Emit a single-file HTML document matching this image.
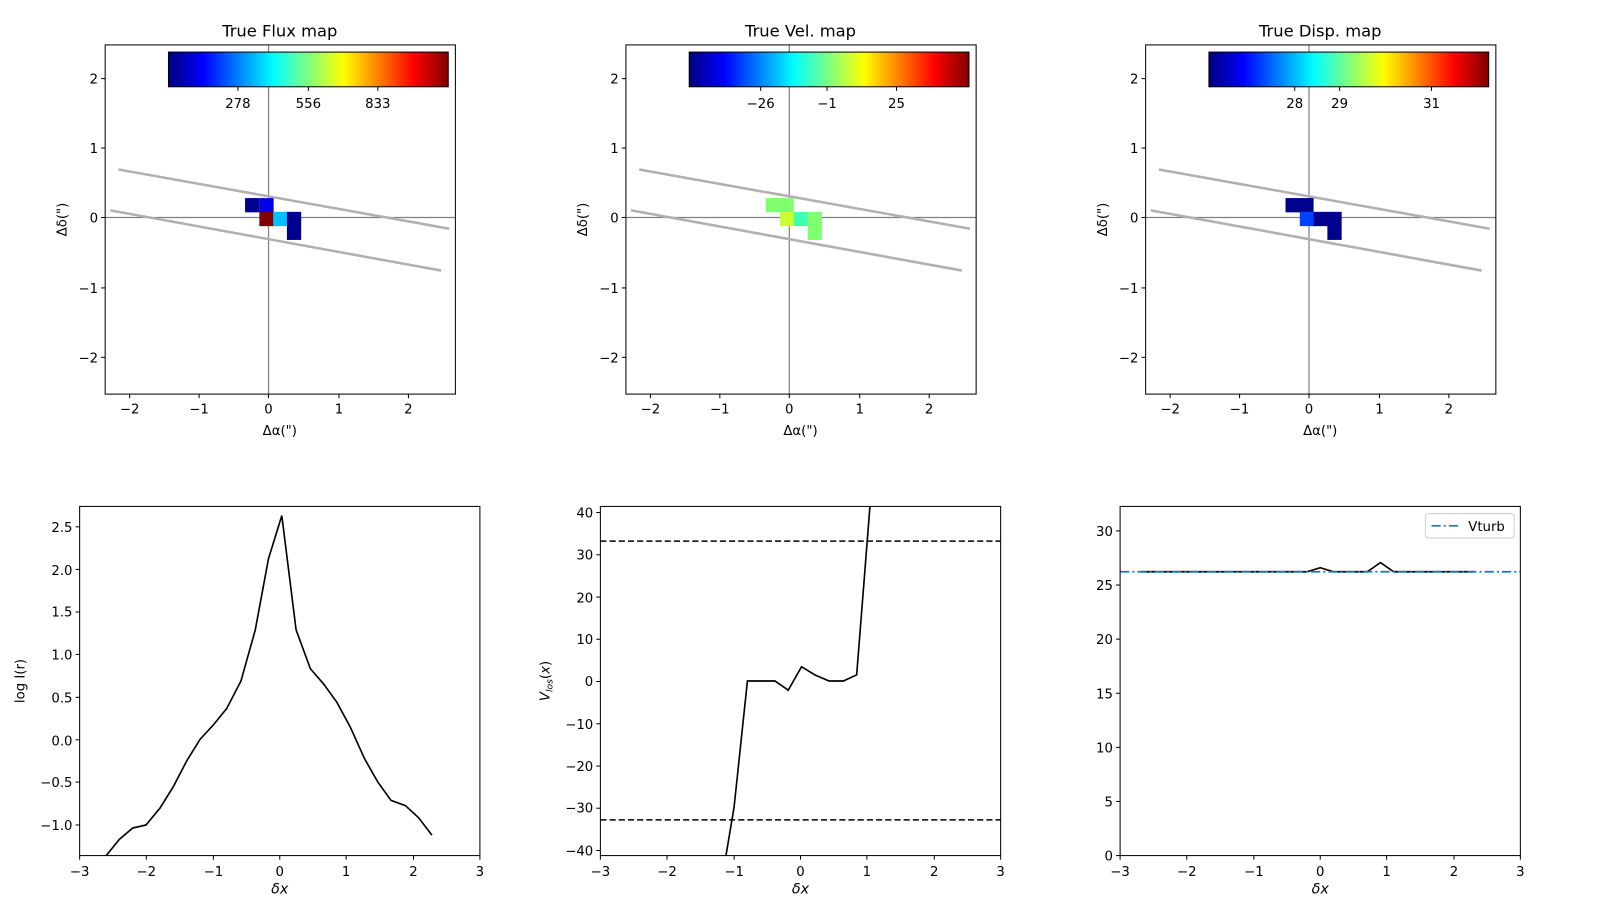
<!DOCTYPE html>
<html><head><meta charset="utf-8"><style>
html,body{margin:0;padding:0;background:#fff;}
svg{display:block;font-family:"DejaVu Sans","Liberation Sans",sans-serif;}
</style></head><body>
<svg width="1600" height="900" viewBox="0 0 1567 881.5" preserveAspectRatio="none" xmlns="http://www.w3.org/2000/svg">
<defs>
<linearGradient id="jet" x1="0" x2="1" y1="0" y2="0">
<stop offset="0" stop-color="#000080"/><stop offset="0.125" stop-color="#0000ff"/><stop offset="0.375" stop-color="#00ffff"/><stop offset="0.5" stop-color="#80ff80"/><stop offset="0.625" stop-color="#ffff00"/><stop offset="0.875" stop-color="#ff0000"/><stop offset="1" stop-color="#800000"/>
</linearGradient>
<g id="topframe">
<line x1="263" y1="44" x2="263" y2="386" stroke="#808080" stroke-width="1.2"/>
<line x1="103" y1="213" x2="446" y2="213" stroke="#808080" stroke-width="1.2"/>
<line x1="116" y1="166" x2="440" y2="224" stroke="#b0b0b0" stroke-width="2.5"/>
<line x1="108" y1="206" x2="432" y2="265" stroke="#b0b0b0" stroke-width="2.5"/>
<g stroke="#000" stroke-width="1">
<line x1="127" y1="386" x2="127" y2="390"/><line x1="195" y1="386" x2="195" y2="390"/><line x1="263" y1="386" x2="263" y2="390"/><line x1="332" y1="386" x2="332" y2="390"/><line x1="400" y1="386" x2="400" y2="390"/>
<line x1="99" y1="77" x2="103" y2="77"/><line x1="99" y1="145" x2="103" y2="145"/><line x1="99" y1="213" x2="103" y2="213"/><line x1="99" y1="282" x2="103" y2="282"/><line x1="99" y1="350" x2="103" y2="350"/>
</g>
<g font-size="13" text-anchor="middle">
<text x="127" y="405">−2</text><text x="195" y="405">−1</text><text x="263" y="405">0</text><text x="332" y="405">1</text><text x="400" y="405">2</text>
</g>
<g font-size="13" text-anchor="end">
<text x="96" y="82">2</text><text x="96" y="150">1</text><text x="96" y="218">0</text><text x="96" y="287">−1</text><text x="96" y="355">−2</text>
</g>
<text x="274" y="426" font-size="13" text-anchor="middle">Δα(")</text>
<text transform="translate(65,215) rotate(-90)" font-size="13" text-anchor="middle">Δδ(")</text>
<rect x="165" y="51" width="274" height="34" fill="url(#jet)" stroke="#000" stroke-width="1"/>
</g>
</defs>

<use href="#topframe"/>
<use href="#topframe" transform="translate(510,0)"/>
<use href="#topframe" transform="translate(1019,0)"/>

<rect x="240" y="194" width="14" height="14" fill="#00008f"/>
<rect x="254" y="194" width="14" height="14" fill="#0000e6"/>
<rect x="254" y="207.5" width="14" height="14" fill="#800000"/>
<rect x="267.5" y="207.5" width="14" height="14" fill="#00c0ff"/>
<rect x="281" y="207.5" width="14" height="27.5" fill="#00008f"/>
<rect x="750" y="194" width="27.5" height="14" fill="#80ff70"/>
<rect x="764" y="207.5" width="14" height="14" fill="#c8ff30"/>
<rect x="777.5" y="207.5" width="14" height="14" fill="#40ffb0"/>
<rect x="791" y="207.5" width="14" height="27.5" fill="#80ff70"/>
<rect x="1259" y="194" width="27.5" height="14" fill="#00008f"/>
<rect x="1273" y="207.5" width="14" height="14" fill="#0040ff"/>
<rect x="1286.5" y="207.5" width="27.5" height="14" fill="#00008f"/>
<rect x="1300" y="221" width="14" height="14" fill="#00008f"/>

<g fill="none" stroke="#000" stroke-width="1">
<rect x="103" y="44" width="343" height="342"/>
<rect x="613" y="44" width="343" height="342"/>
<rect x="1122" y="44" width="343" height="342"/>
</g>

<g stroke="#000" stroke-width="1">
<line x1="233" y1="85" x2="233" y2="89"/><line x1="302" y1="85" x2="302" y2="89"/><line x1="370" y1="85" x2="370" y2="89"/>
<line x1="745" y1="85" x2="745" y2="89"/><line x1="810" y1="85" x2="810" y2="89"/><line x1="878" y1="85" x2="878" y2="89"/>
<line x1="1268" y1="85" x2="1268" y2="89"/><line x1="1312" y1="85" x2="1312" y2="89"/><line x1="1402" y1="85" x2="1402" y2="89"/>
</g>
<g font-size="13" text-anchor="middle">
<text x="233" y="106">278</text><text x="302" y="106">556</text><text x="370" y="106">833</text>
<text x="745" y="106">−26</text><text x="810" y="106">−1</text><text x="878" y="106">25</text>
<text x="1268" y="106">28</text><text x="1312" y="106">29</text><text x="1402" y="106">31</text>
</g>
<g font-size="16" text-anchor="middle">
<text x="274" y="36">True Flux map</text>
<text x="784" y="36">True Vel. map</text>
<text x="1293" y="36">True Disp. map</text>
</g>

<polyline fill="none" stroke="#000" stroke-width="1.6" points="104,838 117,822 130,811 143,808 157,791 170,770 183,745 196,724 209,710 222,694 236,667 250,617 263,547 276,505 290,617 304,655 317,670 330,688 343,712 357,743 370,766 383,784 397,789 410,801 423,818"/>
<rect x="78" y="496" width="392" height="342" fill="none" stroke="#000"/>
<g stroke="#000">
<line x1="74" y1="516" x2="78" y2="516"/><line x1="74" y1="557.7" x2="78" y2="557.7"/><line x1="74" y1="599.4" x2="78" y2="599.4"/><line x1="74" y1="641" x2="78" y2="641"/><line x1="74" y1="683" x2="78" y2="683"/><line x1="74" y1="724.6" x2="78" y2="724.6"/><line x1="74" y1="766" x2="78" y2="766"/><line x1="74" y1="808" x2="78" y2="808"/>
</g>
<g font-size="13" text-anchor="end">
<text x="71" y="521">2.5</text><text x="71" y="563">2.0</text><text x="71" y="604">1.5</text><text x="71" y="646">1.0</text><text x="71" y="688">0.5</text><text x="71" y="730">0.0</text><text x="71" y="771">−0.5</text><text x="71" y="813">−1.0</text>
</g>
<text transform="translate(24,667) rotate(-90)" font-size="13" text-anchor="middle">log I(r)</text>

<g id="bx">
<g stroke="#000">
<line x1="78" y1="838" x2="78" y2="842"/><line x1="143.3" y1="838" x2="143.3" y2="842"/><line x1="209" y1="838" x2="209" y2="842"/><line x1="274" y1="838" x2="274" y2="842"/><line x1="339" y1="838" x2="339" y2="842"/><line x1="405" y1="838" x2="405" y2="842"/><line x1="470" y1="838" x2="470" y2="842"/>
</g>
<g font-size="13" text-anchor="middle">
<text x="78" y="858">−3</text><text x="143.3" y="858">−2</text><text x="209" y="858">−1</text><text x="274" y="858">0</text><text x="339" y="858">1</text><text x="405" y="858">2</text><text x="470" y="858">3</text>
</g>
<text x="274" y="875" font-size="14" font-style="italic" text-anchor="middle">δx</text>
</g>
<use href="#bx" transform="translate(510,0)"/>
<use href="#bx" transform="translate(1019,0)"/>

<line x1="588" y1="530" x2="980" y2="530" stroke="#000" stroke-width="1.5" stroke-dasharray="6,3"/>
<line x1="588" y1="803" x2="980" y2="803" stroke="#000" stroke-width="1.5" stroke-dasharray="6,3"/>
<polyline fill="none" stroke="#000" stroke-width="1.6" points="711,838 719,790 732,667 745,667 759,667 772,676 785,653 798,661 812,667 826,667 839,661 852,496"/>
<rect x="588" y="496" width="392" height="342" fill="none" stroke="#000"/>
<g stroke="#000">
<line x1="584" y1="502" x2="588" y2="502"/><line x1="584" y1="543.4" x2="588" y2="543.4"/><line x1="584" y1="584.8" x2="588" y2="584.8"/><line x1="584" y1="626.1" x2="588" y2="626.1"/><line x1="584" y1="667.5" x2="588" y2="667.5"/><line x1="584" y1="708.9" x2="588" y2="708.9"/><line x1="584" y1="750.3" x2="588" y2="750.3"/><line x1="584" y1="791.6" x2="588" y2="791.6"/><line x1="584" y1="833" x2="588" y2="833"/>
</g>
<g font-size="13" text-anchor="end">
<text x="581" y="507">40</text><text x="581" y="548">30</text><text x="581" y="590">20</text><text x="581" y="631">10</text><text x="581" y="672">0</text><text x="581" y="714">−10</text><text x="581" y="755">−20</text><text x="581" y="796">−30</text><text x="581" y="838">−40</text>
</g>
<text transform="translate(538,667) rotate(-90)" font-size="13" text-anchor="middle"><tspan font-style="italic">V</tspan><tspan font-size="9" dy="3" font-style="italic">los</tspan><tspan dy="-3">(</tspan><tspan font-style="italic">x</tspan>)</text>

<polyline fill="none" stroke="#000" stroke-width="1.6" points="1117,560 1280,560 1293,556 1306,560 1339,560 1352,551 1365,560 1443,560"/>
<line x1="1097" y1="560" x2="1489" y2="560" stroke="#1f77b4" stroke-width="1.6" stroke-dasharray="9,3,2,3"/>
<rect x="1097" y="496" width="392" height="342" fill="none" stroke="#000"/>
<g stroke="#000">
<line x1="1093" y1="838" x2="1097" y2="838"/><line x1="1093" y1="785" x2="1097" y2="785"/><line x1="1093" y1="732" x2="1097" y2="732"/><line x1="1093" y1="679" x2="1097" y2="679"/><line x1="1093" y1="626" x2="1097" y2="626"/><line x1="1093" y1="573" x2="1097" y2="573"/><line x1="1093" y1="520" x2="1097" y2="520"/>
</g>
<g font-size="13" text-anchor="end">
<text x="1090" y="843">0</text><text x="1090" y="790">5</text><text x="1090" y="737">10</text><text x="1090" y="684">15</text><text x="1090" y="631">20</text><text x="1090" y="578">25</text><text x="1090" y="525">30</text>
</g>
<rect x="1396" y="503" width="87" height="24" rx="3" fill="#fff" stroke="#d0d0d0"/>
<line x1="1402" y1="515" x2="1430" y2="515" stroke="#1f77b4" stroke-width="1.6" stroke-dasharray="9,3,2,3"/>
<text x="1438" y="520" font-size="13">Vturb</text>
</svg>
</body></html>
